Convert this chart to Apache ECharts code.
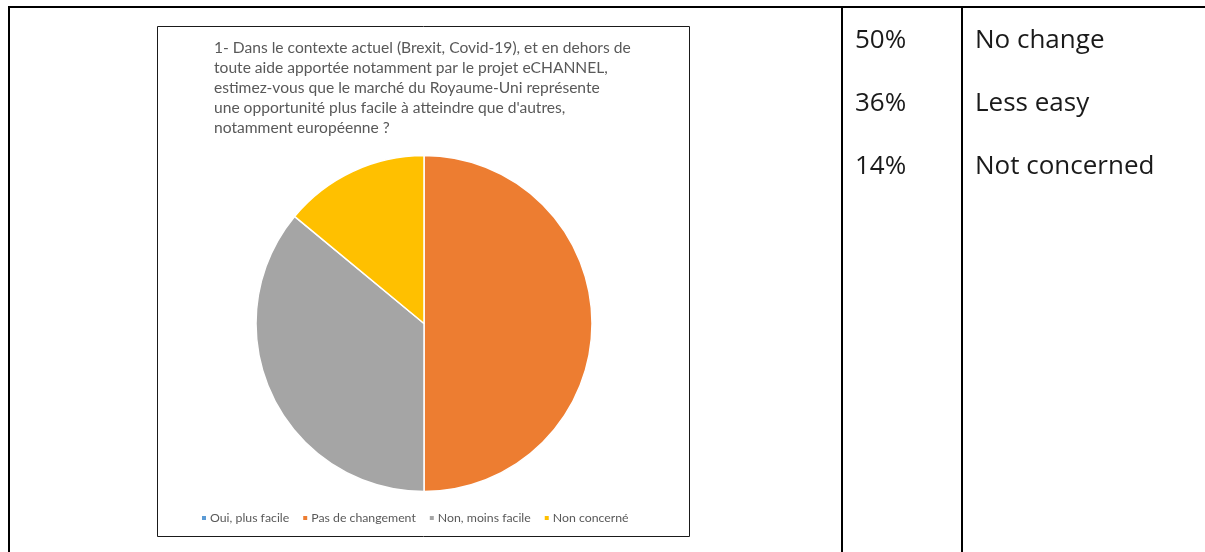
<!DOCTYPE html>
<html>
<head>
<meta charset="utf-8">
<script src="https://cdn.jsdelivr.net/npm/echarts@6/dist/echarts.min.js"></script>
<style>html,body{margin:0;padding:0;background:#fff;}#c{width:1205px;height:552px;}</style>
</head>
<body>
<div id="c"></div>
<script>
const categories = ['Oui, plus facile', 'Pas de changement', 'Non, moins facile', 'Non concerné'];
const values = [0, 50, 36, 14];
const colors = ['#5B9BD5', '#ED7D31', '#A5A5A5', '#FFC000'];
const titleLines = [
  '1- Dans le contexte actuel (Brexit, Covid-19), et en dehors de',
  'toute aide apportée notamment par le projet eCHANNEL,',
  'estimez-vous que le marché du Royaume-Uni représente',
  'une opportunité plus facile à atteindre que d\'autres,',
  'notamment européenne ?'
];
const tablePercents = ['50%', '36%', '14%'];
const tableLabels = ['No change', 'Less easy', 'Not concerned'];

const chart = echarts.init(document.getElementById('c'));
const textFont = '"Open Sans", sans-serif';
const graphics = [
  {type: 'line', shape: {x1: 8, y1: 7, x2: 1205, y2: 7}, style: {stroke: '#000', lineWidth: 2}},
  {type: 'line', shape: {x1: 9, y1: 6, x2: 9, y2: 552}, style: {stroke: '#000', lineWidth: 2}},
  {type: 'line', shape: {x1: 842, y1: 6, x2: 842, y2: 552}, style: {stroke: '#000', lineWidth: 2}},
  {type: 'line', shape: {x1: 962, y1: 6, x2: 962, y2: 552}, style: {stroke: '#000', lineWidth: 2}},
  {type: 'rect', shape: {x: 157.5, y: 26.5, width: 532, height: 510}, style: {fill: 'none', stroke: '#1a1a1a', lineWidth: 1}, z: -1}
];
tablePercents.forEach((p, i) => {
  graphics.push({type: 'text', x: 855, y: 40.8 + i * 63, style: {text: p, font: '26px ' + textFont, fill: '#1a1a1a', verticalAlign: 'middle'}});
  graphics.push({type: 'text', x: 975, y: 40.8 + i * 63, style: {text: tableLabels[i], font: '26px ' + textFont, fill: '#1a1a1a', verticalAlign: 'middle'}});
});

chart.setOption({
  animation: false,
  color: colors,
  title: {
    text: titleLines.join('\n'),
    left: 209,
    top: 33,
    textStyle: {fontFamily: 'Lato', fontSize: 15.6, fontWeight: 'normal', color: '#595959', lineHeight: 20}
  },
  legend: {
    data: categories,
    bottom: 28,
    left: 200,
    padding: 0,
    icon: 'rect',
    itemWidth: 6,
    itemHeight: 6,
    itemGap: 12,
    textStyle: {fontFamily: 'Lato', fontSize: 12.3, color: '#595959', padding: [0, 0, 0, -2]}
  },
  graphic: graphics,
  series: [{
    type: 'pie',
    center: [424, 323.5],
    radius: [0, 168],
    startAngle: 90,
    clockwise: true,
    label: {show: false},
    labelLine: {show: false},
    itemStyle: {borderColor: '#fff', borderWidth: 1.5},
    emphasis: {disabled: true},
    data: categories.map((c, i) => ({name: c, value: values[i]}))
  }]
});
</script>
</body>
</html>
